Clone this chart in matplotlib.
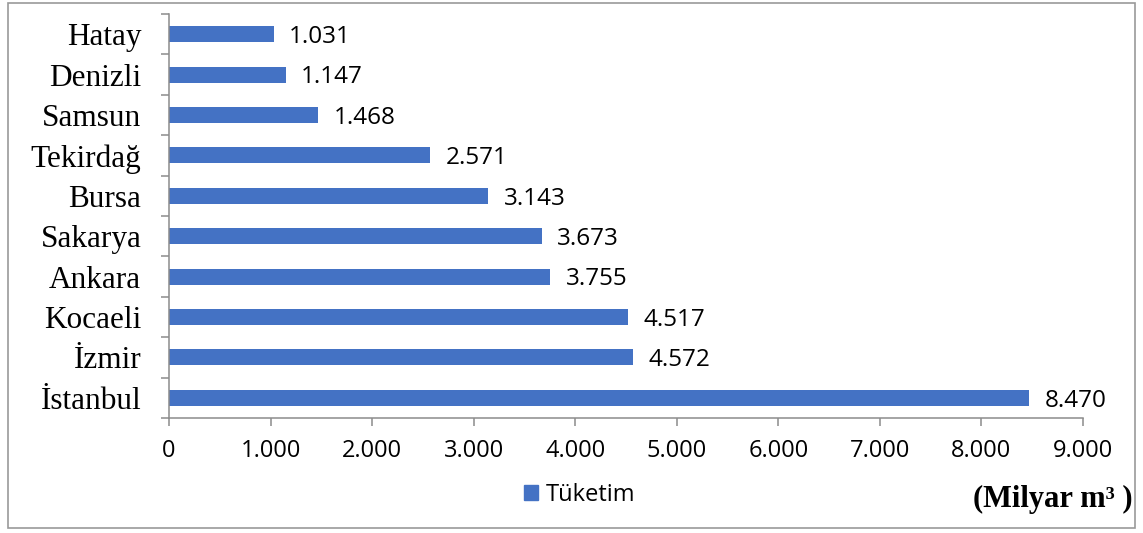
import matplotlib.pyplot as plt
import matplotlib.patches as mpatches
from matplotlib.ticker import FixedLocator, FuncFormatter
import numpy as np

# data (bottom to top)
cities = ["İstanbul", "İzmir", "Kocaeli", "Ankara", "Sakarya",
          "Bursa", "Tekirdağ", "Samsun", "Denizli", "Hatay"]
values = [8470, 4572, 4517, 3755, 3673, 3143, 2571, 1468, 1147, 1031]
xticks = [0, 1000, 2000, 3000, 4000, 5000, 6000, 7000, 8000, 9000]

bar_color = "#4472C4"
spine_color = "#8c8c8c"

def tr_fmt(v):
    # turkish thousands separator
    return f"{int(v):,}".replace(",", ".")

fig = plt.figure(figsize=(11.43, 5.33), dpi=100)
ax = fig.add_axes([0.1479, 0.2158, 0.7996, 0.7579])

y = np.arange(len(cities))
ax.barh(y, values, height=0.4, color=bar_color, zorder=2)

# value labels, a bit right of bar end
for yi, v in zip(y, values):
    ax.annotate(tr_fmt(v), xy=(v, yi), xytext=(11, -2),
                textcoords="offset points", ha="left", va="center",
                fontsize=17.5, fontfamily="Open Sans", color="black")

ax.set_xlim(0, 9000)
ax.set_ylim(-0.5, len(cities) - 0.5)

ax.set_xticks(xticks)
ax.xaxis.set_major_formatter(FuncFormatter(lambda v, p: tr_fmt(v)))
for lab in ax.get_xticklabels():
    lab.set_fontfamily("Open Sans")
    lab.set_fontsize(17)
ax.tick_params(axis="x", length=6, width=1.1, color=spine_color, pad=9)

ax.set_yticks(y)
ax.set_yticklabels(cities, fontfamily="Liberation Serif", fontsize=22.5)
ax.tick_params(axis="y", which="major", length=0, pad=20)
ax.yaxis.set_minor_locator(FixedLocator(np.arange(-0.5, len(cities), 1.0)))
ax.tick_params(axis="y", which="minor", length=6, width=1.1, color=spine_color)

for s in ["top", "right"]:
    ax.spines[s].set_visible(False)
for s in ["left", "bottom"]:
    ax.spines[s].set_color(spine_color)
    ax.spines[s].set_linewidth(1.1)

# legend
handle = mpatches.Patch(color=bar_color, label="Tüketim")
fig.legend(handles=[handle], loc="center", bbox_to_anchor=(0.507, 0.072),
           frameon=False, prop={"family": "Open Sans", "size": 17},
           handlelength=0.6, handleheight=0.6, handletextpad=0.3)

fig.text(0.991, 0.062, "(Milyar m³ )", ha="right", va="center",
         fontfamily="Liberation Serif", fontweight="bold", fontsize=22)

# chart border
fig.patches.append(mpatches.Rectangle((0.007, 0.009), 0.986, 0.985,
                                      transform=fig.transFigure, fill=False,
                                      edgecolor="#999999", linewidth=1.2))

fig.savefig("out.png", dpi=100)
